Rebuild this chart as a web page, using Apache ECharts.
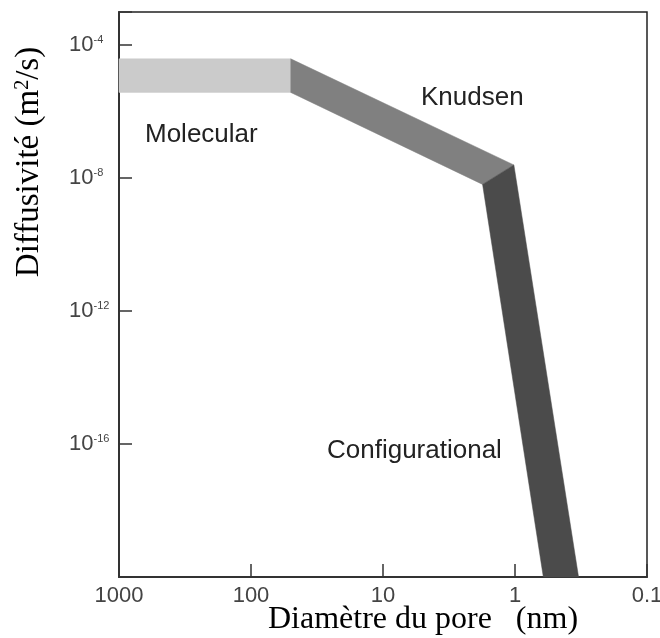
<!DOCTYPE html>
<html>
<head>
<meta charset="utf-8">
<script src="https://cdn.jsdelivr.net/npm/echarts@6/dist/echarts.min.js"></script>
<style>html,body{margin:0;padding:0;background:#fff}#chart{width:660px;height:638px}</style>
</head>
<body>
<div id="chart"></div>
<script>
// sommets des zones : diamètre du pore (nm) et diffusivité (m2/s)
var molecularD = [1000, 50, 50, 1000];
var molecularDiff = [3.9e-5, 3.9e-5, 3.8e-6, 3.8e-6];
var knudsenD = [50, 1.02, 1.76, 50];
var knudsenDiff = [3.9e-5, 2.5e-8, 6.5e-9, 3.8e-6];
var configD = [1.76, 1.02, 0.33, 0.61];
var configDiff = [6.5e-9, 2.5e-8, 1e-20, 1e-20];

var xTickLabels = ['1000', '100', '10', '1', '0.1'];
var yTickExps = [-4, -8, -12, -16];

var myChart = echarts.init(document.getElementById('chart'));

function band(name, ds, diffs, color) {
    var pts = ds.map(function (d, i) {
        return [Math.log10(d), Math.log10(diffs[i])];
    });
    return {
        type: 'custom',
        name: name,
        data: pts,
        silent: true,
        renderItem: function (params, api) {
            if (params.dataIndex !== 0) return;
            return {
                type: 'polygon',
                shape: { points: pts.map(function (p) { return api.coord(p); }) },
                style: { fill: color, stroke: color, lineWidth: 0.5 }
            };
        }
    };
}

var sans = 'Liberation Sans';
var serif = 'Liberation Serif';

option = {
    animation: false,
    backgroundColor: '#fff',
    grid: {
        left: 119, right: 13, top: 12, bottom: 61,
        outerBoundsMode: 'none',
        containLabel: false,
        show: true, borderColor: '#222', borderWidth: 1.5
    },
    xAxis: {
        type: 'value',
        min: -1, max: 3, interval: 1,
        inverse: true,
        splitLine: { show: false },
        axisLine: { onZero: false, lineStyle: { color: '#333', width: 2 } },
        axisTick: { inside: true, length: 13, lineStyle: { color: '#333', width: 1.5 } },
        axisLabel: {
            margin: 8,
            color: '#444',
            fontFamily: sans,
            fontSize: 22,
            showMinLabel: true,
            showMaxLabel: true,
            hideOverlap: false,
            formatter: function (v) {
                return xTickLabels[Math.round(3 - v)] || '';
            }
        }
    },
    yAxis: {
        type: 'value',
        min: -20, max: -3, interval: 4,
        splitLine: { show: false },
        axisLine: { onZero: false, lineStyle: { color: '#333', width: 2 } },
        axisTick: { inside: true, length: 13, lineStyle: { color: '#333', width: 1.5 } },
        axisLabel: {
            margin: 50,
            align: 'left',
            color: '#444',
            formatter: function (v) {
                if (yTickExps.indexOf(v) < 0) return '';
                return '{b|10}{s|' + v + '}';
            },
            rich: {
                b: { fontFamily: sans, fontSize: 22, lineHeight: 22, color: '#444' },
                s: { fontFamily: sans, fontSize: 11, lineHeight: 11, verticalAlign: 'top', color: '#444' }
            }
        }
    },
    graphic: [
        {
            type: 'text', x: 29, y: 162, rotation: Math.PI / 2,
            style: {
                text: '{t|Diffusivité (m}{s|2}{t|/s)}',
                align: 'center', verticalAlign: 'middle',
                rich: {
                    t: { fontFamily: serif, fontSize: 33, lineHeight: 33, fill: '#000' },
                    s: { fontFamily: serif, fontSize: 20, lineHeight: 20, verticalAlign: 'top', fill: '#000' }
                }
            }
        },
        {
            type: 'text', x: 423, y: 620,
            style: {
                text: 'Diamètre du pore   (nm)',
                font: '32px "Liberation Serif"',
                fill: '#000', align: 'center', verticalAlign: 'middle'
            }
        },
        {
            type: 'text', x: 145, y: 135,
            style: { text: 'Molecular', font: '26px "Liberation Sans"', fill: '#222', align: 'left', verticalAlign: 'middle' }
        },
        {
            type: 'text', x: 421, y: 98,
            style: { text: 'Knudsen', font: '26px "Liberation Sans"', fill: '#222', align: 'left', verticalAlign: 'middle' }
        },
        {
            type: 'text', x: 327, y: 451,
            style: { text: 'Configurational', font: '26px "Liberation Sans"', fill: '#222', align: 'left', verticalAlign: 'middle' }
        }
    ],
    series: [
        band('Molecular', molecularD, molecularDiff, '#cbcbcb'),
        band('Knudsen', knudsenD, knudsenDiff, '#808080'),
        band('Configurational', configD, configDiff, '#4b4b4b')
    ]
};

myChart.setOption(option);
</script>
</body>
</html>
